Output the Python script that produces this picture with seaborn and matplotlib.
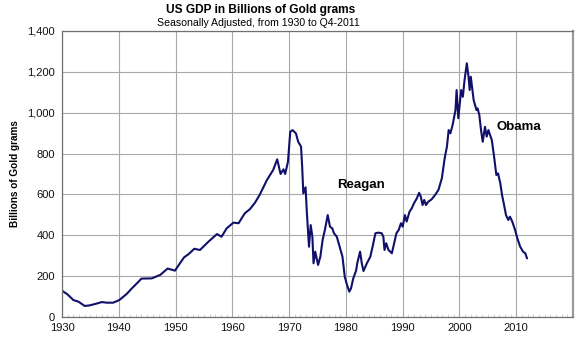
import matplotlib
matplotlib.use("Agg")
import matplotlib.pyplot as plt
import matplotlib.ticker as mticker
import seaborn as sns
import pandas as pd

years = [1930.0, 1931.0, 1932.0, 1932.9, 1934.0, 1934.9, 1936.0, 1937.0, 1937.9, 1939.0,
         1940.1, 1941.4, 1942.3, 1943.2, 1944.0, 1945.8, 1947.3, 1948.6, 1949.9, 1950.7,
         1951.5, 1952.3, 1953.3, 1954.3, 1955.8, 1957.3, 1958.1, 1959.0, 1960.2, 1961.1,
         1962.2, 1963.1, 1964.0, 1964.8, 1966.1, 1967.2, 1967.9, 1968.5, 1969.0, 1969.3,
         1969.8, 1970.2, 1970.6, 1971.2, 1971.6, 1972.1, 1972.3, 1972.5, 1972.9, 1973.1,
         1973.5, 1973.8, 1974.1, 1974.3, 1974.6, 1975.1, 1975.5, 1975.9, 1976.3, 1976.8,
         1977.2, 1977.6, 1977.9, 1978.4, 1978.9, 1979.4, 1979.8, 1980.2, 1980.6, 1980.9,
         1981.3, 1981.8, 1982.0, 1982.5, 1982.8, 1983.1, 1983.7, 1984.3, 1984.7, 1985.2,
         1985.7, 1986.3, 1986.6, 1986.8, 1987.1, 1987.5, 1988.1, 1988.5, 1988.9, 1989.3,
         1989.7, 1990.0, 1990.4, 1990.7, 1991.2, 1991.6, 1992.0, 1992.5, 1992.9, 1993.2,
         1993.5, 1993.8, 1994.1, 1994.5, 1995.1, 1995.7, 1996.3, 1996.9, 1997.4, 1997.8,
         1998.1, 1998.4, 1998.8, 1999.3, 1999.5, 1999.8, 2000.3, 2000.6, 2000.9, 2001.3,
         2001.6, 2001.8, 2002.0, 2002.5, 2003.0, 2003.2, 2003.5, 2003.8, 2004.1, 2004.5,
         2004.8, 2005.1, 2005.4, 2005.7, 2006.1, 2006.5, 2006.8, 2007.2, 2007.5, 2007.8,
         2008.2, 2008.6, 2008.9, 2009.3, 2009.8, 2010.2, 2010.7, 2011.2, 2011.6, 2011.9]

gdp_gold = [129, 110, 83, 75, 54, 57, 65, 73, 70, 70,
            83, 113, 140, 165, 188, 189, 206, 237, 227, 260,
            292, 308, 334, 328, 369, 406, 393, 434, 462, 459,
            508, 528, 560, 597, 671, 720, 772, 700, 723, 700,
            760, 907, 915, 899, 858, 834, 736, 605, 635, 524,
            344, 450, 393, 263, 320, 255, 295, 377, 426, 499,
            442, 434, 410, 393, 344, 295, 197, 157, 124, 140,
            189, 227, 263, 320, 263, 225, 263, 295, 344, 410,
            413, 410, 393, 328, 361, 328, 312, 361, 410, 426,
            459, 442, 499, 467, 515, 532, 557, 581, 608, 589,
            548, 573, 548, 564, 576, 597, 622, 679, 777, 835,
            915, 899, 940, 1013, 1111, 973, 1111, 1078, 1160, 1242,
            1176, 1111, 1176, 1062, 1013, 1021, 989, 915, 858, 931,
            883, 915, 891, 866, 785, 695, 703, 654, 597, 557,
            499, 475, 491, 467, 426, 385, 344, 320, 312, 287]

x_ticks = [1930, 1940, 1950, 1960, 1970, 1980, 1990, 2000, 2010]
y_ticks = [0, 200, 400, 600, 800, 1000, 1200, 1400]
annotations = ["Reagan", "Obama"]
annot_x = [1982.7, 2010.5]
annot_y = [646, 930]

df = pd.DataFrame({"year": years, "value": gdp_gold})

sns.set_theme(style="white")
plt.rcParams["font.family"] = ["Liberation Sans", "DejaVu Sans"]
plt.rcParams["text.color"] = "black"

fig = plt.figure(figsize=(5.8, 3.45), dpi=100)
ax = fig.add_axes([62 / 580, 1 - 317 / 345, (573 - 62) / 580, (317 - 31) / 345])

sns.lineplot(data=df, x="year", y="value", ax=ax, color="#10106a",
             linewidth=1.5, sort=False, estimator=None)

ax.set_xlim(1930, 2020)
ax.set_ylim(0, 1400)
ax.set_xticks(x_ticks + [2020])
ax.set_xticklabels([str(t) for t in x_ticks] + [""])
ax.set_yticks(y_ticks)
ax.yaxis.set_major_formatter(mticker.FuncFormatter(lambda v, p: f"{int(v):,}"))
ax.xaxis.set_minor_locator(mticker.MultipleLocator(1))

ax.grid(True, which="major", color="#a8a8a8", linewidth=0.8)
ax.tick_params(axis="both", which="major", labelsize=8, labelcolor="#111111",
               color="#808080", length=3, width=0.6, direction="out", pad=2)
ax.tick_params(axis="x", which="major", length=0, pad=4)
ax.tick_params(axis="x", which="minor", length=2.5, width=0.5,
               direction="in", color="#c0c0c0", bottom=True)
for side, sp in ax.spines.items():
    sp.set_color("#707070")
    sp.set_linewidth(0.9)
ax.spines["right"].set_linewidth(1.6)
ax.spines["right"].set_color("#9a9a9a")

ax.set_xlabel("")
ax.set_ylabel("Billions of Gold grams", fontsize=7.2, fontweight="bold",
              labelpad=5, color="black")

for label, xa, ya in zip(annotations, annot_x, annot_y):
    ax.text(xa, ya, label, fontsize=9.5, fontweight="bold", ha="center",
            va="center", color="black")

fig.text(261 / 580, 1 - 10 / 345, "US GDP in Billions of Gold grams",
         ha="center", va="center", fontsize=8.6, fontweight="bold", color="black")
fig.text(258 / 580, 1 - 23 / 345, "Seasonally Adjusted, from 1930 to Q4-2011",
         ha="center", va="center", fontsize=7.6, color="black")

fig.savefig("out.png", dpi=100)
